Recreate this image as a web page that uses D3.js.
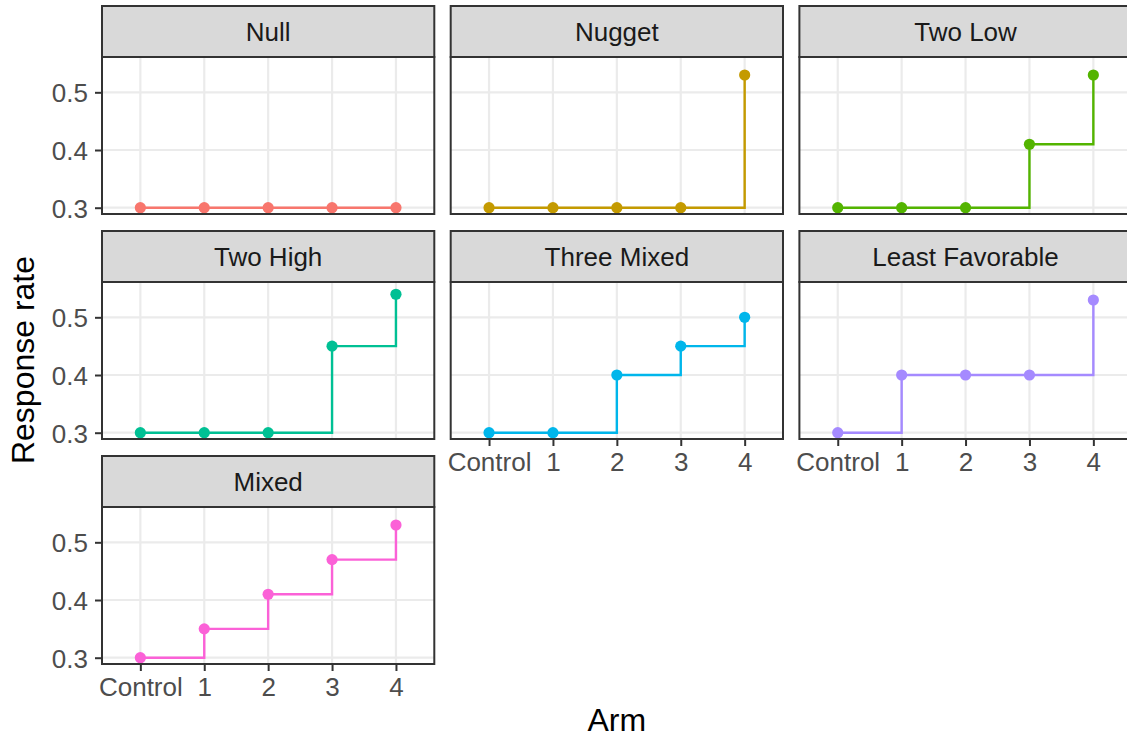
<!DOCTYPE html>
<html>
<head>
<meta charset="utf-8">
<script src="https://cdn.jsdelivr.net/npm/d3@7"></script>
<style>
  body { margin: 0; background: #fff; }
  text { font-family: "Liberation Sans", Arial, Helvetica, sans-serif; }
</style>
</head>
<body>
<div id="visualContainer"></div>
<script>
var width = 1127;
var height = 739;

// data
var arms = ["Control", "1", "2", "3", "4"];
var scenarios = ["Null", "Nugget", "Two Low", "Two High", "Three Mixed", "Least Favorable", "Mixed"];
var nullRates = [0.30, 0.30, 0.30, 0.30, 0.30];
var nuggetRates = [0.30, 0.30, 0.30, 0.30, 0.53];
var twoLowRates = [0.30, 0.30, 0.30, 0.41, 0.53];
var twoHighRates = [0.30, 0.30, 0.30, 0.45, 0.54];
var threeMixedRates = [0.30, 0.30, 0.40, 0.45, 0.50];
var leastFavRates = [0.30, 0.40, 0.40, 0.40, 0.53];
var mixedRates = [0.30, 0.35, 0.41, 0.47, 0.53];
var yTicks = [0.3, 0.4, 0.5];
var colors = ["#F8766D", "#C49A00", "#53B400", "#00C094", "#00B6EB", "#A58AFF", "#FB61D7"];

var allRates = [nullRates, nuggetRates, twoLowRates, twoHighRates, threeMixedRates, leastFavRates, mixedRates];

// facet layout
var nCols = 3;
var panelLeft = 102;
var colPitch = 348.7;
var panelW = 332.3;
var rowTop = 6;
var rowPitch = 225;
var stripH = 51;
var panelH = 157;
var labelSize = 26;

var xScale = d3.scalePoint()
    .domain(arms)
    .range([0, panelW])
    .padding(0.6);

var yScale = d3.scaleLinear()
    .domain([0.2891, 0.5612])
    .range([panelH, 0]);

var line = d3.line()
    .x(function(d, j) { return xScale(arms[j]); })
    .y(function(d) { return yScale(d); })
    .curve(d3.curveStepAfter);

var svgCanvas = d3.select("#visualContainer")
    .append("svg")
    .attr("width", width)
    .attr("height", height);

scenarios.forEach(function(name, k) {
    var col = k % nCols;
    var row = Math.floor(k / nCols);
    var px = panelLeft + col * colPitch;
    var sy = rowTop + row * rowPitch;
    var py = sy + stripH;

    // strip
    var strip = svgCanvas.append("g")
        .attr("transform", "translate(" + px + "," + sy + ")");
    strip.append("rect")
        .attr("width", panelW)
        .attr("height", stripH)
        .attr("fill", "#D9D9D9")
        .attr("stroke", "#333333")
        .attr("stroke-width", 2);
    strip.append("text")
        .attr("x", panelW / 2)
        .attr("y", stripH / 2 + 9.3)
        .attr("text-anchor", "middle")
        .attr("font-size", labelSize)
        .attr("fill", "#1A1A1A")
        .text(name);

    var panel = svgCanvas.append("g")
        .attr("transform", "translate(" + px + "," + py + ")");

    panel.append("rect")
        .attr("width", panelW)
        .attr("height", panelH)
        .attr("fill", "#fff");

    // grid
    panel.selectAll(".hgrid")
        .data(yTicks)
        .enter()
        .append("line")
        .attr("x1", 0)
        .attr("x2", panelW)
        .attr("y1", function(d) { return yScale(d); })
        .attr("y2", function(d) { return yScale(d); })
        .attr("stroke", "#EBEBEB")
        .attr("stroke-width", 2.2);
    panel.selectAll(".vgrid")
        .data(arms)
        .enter()
        .append("line")
        .attr("x1", function(d) { return xScale(d); })
        .attr("x2", function(d) { return xScale(d); })
        .attr("y1", 0)
        .attr("y2", panelH)
        .attr("stroke", "#EBEBEB")
        .attr("stroke-width", 2.2);

    // step line + points
    panel.append("path")
        .datum(allRates[k])
        .attr("d", line)
        .attr("fill", "none")
        .attr("stroke", colors[k])
        .attr("stroke-width", 2.4);
    panel.selectAll("circle")
        .data(allRates[k])
        .enter()
        .append("circle")
        .attr("cx", function(d, j) { return xScale(arms[j]); })
        .attr("cy", function(d) { return yScale(d); })
        .attr("r", 5.6)
        .attr("fill", colors[k]);

    panel.append("rect")
        .attr("width", panelW)
        .attr("height", panelH)
        .attr("fill", "none")
        .attr("stroke", "#333333")
        .attr("stroke-width", 2);

    // y axis on first column
    if (col == 0) {
        var yAxis = panel.append("g")
            .call(d3.axisLeft(yScale).tickValues(yTicks).tickFormat(d3.format(".1f")).tickSize(7).tickPadding(7));
        styleAxis(yAxis);
        yAxis.selectAll("text").attr("dy", "0.36em");
    }

    // x axis where nothing sits below
    if (k + nCols >= scenarios.length) {
        var xAxis = panel.append("g")
            .attr("transform", "translate(0," + panelH + ")")
            .call(d3.axisBottom(xScale).tickSize(7).tickPadding(6));
        styleAxis(xAxis);
        xAxis.selectAll("text").attr("dy", "0.72em");
    }
});

function styleAxis(g) {
    g.select(".domain").remove();
    g.selectAll(".tick line")
        .attr("stroke", "#333333")
        .attr("stroke-width", 2);
    g.selectAll(".tick text")
        .attr("font-size", labelSize)
        .attr("font-family", "Liberation Sans, Arial, Helvetica, sans-serif")
        .attr("fill", "#4D4D4D");
}

// axis titles
svgCanvas.append("text")
    .attr("x", 616.8)
    .attr("y", 731)
    .attr("text-anchor", "middle")
    .attr("font-size", 32)
    .attr("fill", "#000")
    .text("Arm");

svgCanvas.append("text")
    .attr("transform", "translate(34,360) rotate(-90)")
    .attr("text-anchor", "middle")
    .attr("font-size", 32)
    .attr("fill", "#000")
    .text("Response rate");
</script>
</body>
</html>
